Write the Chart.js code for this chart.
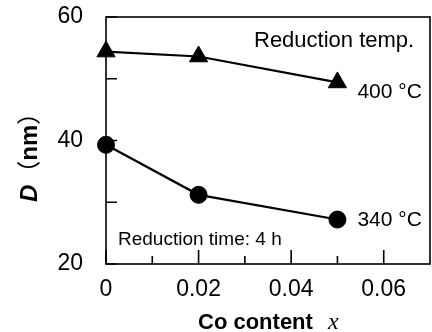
<!DOCTYPE html>
<html>
<head>
<meta charset="utf-8">
<script src="https://cdn.jsdelivr.net/npm/chart.js@4.4.1/dist/chart.umd.min.js"></script>
<style>
  body { margin: 0; background: #fff; }
  canvas { display: block; }
</style>
</head>
<body>
<canvas id="sizeChart" width="432" height="332"></canvas>
<script>
// Crystallite size D vs Co content x
const coContent = [0, 0.02, 0.05];
const size400 = [54.4, 53.6, 49.4];   // 400 °C, triangles
const size340 = [39.3, 31.2, 27.2];   // 340 °C, circles

const xTicks = [0, 0.02, 0.04, 0.06];
const xTickLabels = ['0', '0.02', '0.04', '0.06'];
const xMinorTicks = [0.01, 0.03, 0.05];
const yTicks = [20, 40, 60];
const yMinorTicks = [30, 50];

const FONT = '"Liberation Sans", Arial, sans-serif';

function toPoints(xs, ys) {
    return xs.map((x, i) => ({ x: x, y: ys[i] }));
}

// keep the plot box where the reference has it
function noScalePadding(scale) {
    scale.paddingTop = 0;
    scale.paddingBottom = 0;
    scale.paddingLeft = 0;
    scale.paddingRight = 0;
}

// inward ticks, frame and text annotations
const framePlugin = {
    id: 'frame',
    afterDatasetsDraw(chart) {
        const ctx = chart.ctx;
        const area = chart.chartArea;
        const xs = chart.scales.x;
        const ys = chart.scales.y;
        ctx.save();
        ctx.strokeStyle = '#000';
        ctx.lineWidth = 1.6;
        ctx.strokeRect(area.left, area.top, area.right - area.left, area.bottom - area.top);

        ctx.beginPath();
        xTicks.forEach(v => {
            const px = xs.getPixelForValue(v);
            ctx.moveTo(px, area.bottom);
            ctx.lineTo(px, area.bottom - 14);
        });
        xMinorTicks.forEach(v => {
            const px = xs.getPixelForValue(v);
            ctx.moveTo(px, area.bottom);
            ctx.lineTo(px, area.bottom - 8);
        });
        yTicks.concat(yMinorTicks).forEach(v => {
            const py = ys.getPixelForValue(v);
            ctx.moveTo(area.left, py);
            ctx.lineTo(area.left + 11, py);
        });
        ctx.stroke();

        ctx.fillStyle = '#000';
        ctx.textBaseline = 'alphabetic';
        ctx.textAlign = 'left';

        ctx.font = '22px ' + FONT;
        ctx.fillText('Reduction temp.', 254, 47);

        // series labels next to the last points
        const last = coContent.length - 1;
        const lx = xs.getPixelForValue(coContent[last]) + 20;
        ctx.font = '21px ' + FONT;
        ctx.fillText('400 °C', lx, ys.getPixelForValue(size400[last]) + 16);
        ctx.fillText('340 °C', lx, ys.getPixelForValue(size340[last]) + 6);

        ctx.font = '19px ' + FONT;
        ctx.fillText('Reduction time: 4 h', 118, 245);

        // x title
        ctx.font = 'bold 22px ' + FONT;
        ctx.fillText('Co content', 198, 329);
        ctx.font = 'italic 24px "Liberation Serif", "Times New Roman", serif';
        ctx.fillText('x', 328, 329);

        // y title, rotated
        ctx.translate(37, 202);
        ctx.rotate(-Math.PI / 2);
        let pos = 0;
        ctx.font = 'bold italic 24px ' + FONT;
        ctx.fillText('D', pos, 0);
        pos += ctx.measureText('D').width;
        ctx.font = '24px "Noto Sans CJK SC", ' + FONT;
        ctx.fillText('（', pos, 0);
        pos += ctx.measureText('（').width;
        ctx.font = 'bold 24px ' + FONT;
        ctx.fillText('nm', pos, 0);
        pos += ctx.measureText('nm').width;
        ctx.font = '24px "Noto Sans CJK SC", ' + FONT;
        ctx.fillText('）', pos, 0);
        ctx.restore();
    }
};

const ctx = document.getElementById('sizeChart').getContext('2d');
const sizeChart = new Chart(ctx, {
    type: 'scatter',
    data: {
        datasets: [
            {
                label: '400 °C',
                data: toPoints(coContent, size400),
                showLine: true,
                borderColor: '#000',
                borderWidth: 2.2,
                backgroundColor: '#000',
                pointStyle: 'triangle',
                pointRadius: 10.5,
                pointBorderWidth: 1,
                clip: false
            },
            {
                label: '340 °C',
                data: toPoints(coContent, size340),
                showLine: true,
                borderColor: '#000',
                borderWidth: 2.2,
                backgroundColor: '#000',
                pointStyle: 'circle',
                pointRadius: 8.5,
                pointBorderWidth: 1,
                clip: false
            }
        ]
    },
    options: {
        responsive: false,
        animation: false,
        layout: { autoPadding: false, padding: { left: 0, top: 17, right: 2, bottom: 0 } },
        plugins: {
            legend: { display: false },
            tooltip: { enabled: false }
        },
        scales: {
            x: {
                type: 'linear',
                min: 0,
                max: 0.07,
                afterFit(scale) { scale.height = 68; noScalePadding(scale); },
                afterBuildTicks(scale) { scale.ticks = xTicks.map(v => ({ value: v })); },
                grid: { display: false, drawTicks: false },
                border: { display: false },
                ticks: {
                    padding: 12,
                    color: '#000',
                    font: { family: FONT, size: 23 },
                    callback: (v) => xTickLabels[xTicks.indexOf(v)]
                }
            },
            y: {
                min: 20,
                max: 60,
                afterFit(scale) { scale.width = 106; noScalePadding(scale); },
                afterBuildTicks(scale) { scale.ticks = yTicks.map(v => ({ value: v })); },
                grid: { display: false, drawTicks: false },
                border: { display: false },
                ticks: {
                    padding: 23,
                    color: '#000',
                    font: { family: FONT, size: 23 }
                }
            }
        }
    },
    plugins: [framePlugin]
});
</script>
</body>
</html>
